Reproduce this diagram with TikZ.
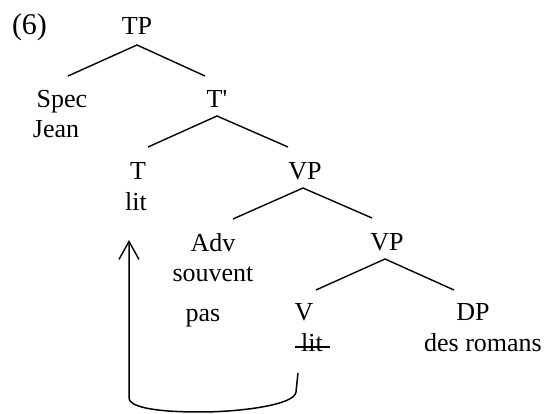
\documentclass[tikz,border=0pt]{standalone}
\usepackage{fontspec}
\setmainfont{Liberation Serif}
\usetikzlibrary{calc,arrows.meta}
\begin{document}
\begin{tikzpicture}[x=1pt,y=-1pt,
  lbl/.style={anchor=base,inner sep=0pt,font=\fontsize{26}{30}\selectfont},
  branch/.style={line width=1.4pt},
  move/.style={line width=1.5pt,-{Straight Barb[length=18pt,width=20pt,line width=1.4pt]}}]
\useasboundingbox (0,0) rectangle (547,414);

% labels and words of the tree
\node[lbl,font=\fontsize{30}{34}\selectfont] (ex) at (29.5,35) {(6)};
\node[lbl] (TP) at (137,35) {TP};
\node[lbl] (Spec) at (62,108) {Spec};
\node[lbl] (Jean) at (56,138) {Jean};
\node[lbl] (Tbar) at (217,108) {T\textquotesingle};
\node[lbl] (T) at (138,180) {T};
\node[lbl] (Tlit) at (136,211) {lit};
\node[lbl] (VPa) at (305,180) {VP};
\node[lbl] (Adv) at (213,252) {Adv};
\node[lbl] (souvent) at (213,282) {souvent};
\node[lbl] (pas) at (203,322) {pas};
\node[lbl] (VPb) at (387,251) {VP};
\node[lbl] (V) at (304,321) {V};
\node[lbl] (Vlit) at (312,352) {lit};
\node[lbl] (DP) at (473,321) {DP};
\node[lbl] (romans) at (483,352) {des romans};

% struck-out trace of the verb
\draw[line width=1.3pt] ($(Vlit.base)+(-17,-5)$) -- ($(Vlit.base)+(18,-5)$);

% branches
\draw[branch] ($(Spec.base)+(6,-32)$) -- ($(TP.base)+(0,10)$) -- ($(Tbar.base)+(-12,-32)$);
\draw[branch] ($(T.base)+(10,-33)$) -- ($(Tbar.base)+(0,8)$) -- ($(VPa.base)+(-17,-33)$);
\draw[branch] ($(Adv.base)+(20,-33)$) -- ($(VPa.base)+(-2,8)$) -- ($(VPb.base)+(-15,-33)$);
\draw[branch] ($(V.base)+(12,-31)$) -- ($(VPb.base)+(-2,8)$) -- ($(DP.base)+(-19,-31)$);

% head movement of the verb from V to T
\coordinate (mvs) at ($(Vlit.base)+(-14,21)$);
\coordinate (mvt) at ($(Tlit.base)+(-7,29)$);
\draw[move] (mvs) -- ++(-2,19)
  .. controls +(-1,13) and +(40,0) .. ++(-96,20)
  .. controls +(-50,0) and +(0,8) .. ++(-71,-14)
  -- (mvt);
\end{tikzpicture}
\end{document}
